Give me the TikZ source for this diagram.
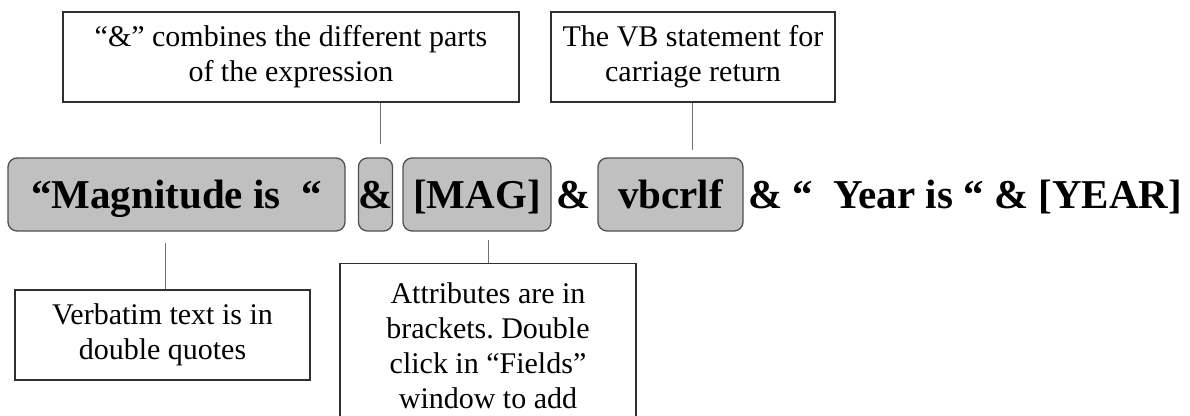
\documentclass[tikz,border=0pt]{standalone}
\usepackage{fontspec}
\setmainfont{Liberation Serif}
\definecolor{tokenfill}{HTML}{C0C0C0}
\definecolor{boxedge}{HTML}{505050}
\definecolor{noteedge}{HTML}{303030}
\definecolor{linkgray}{HTML}{707070}
\frenchspacing
\begin{document}
\begin{tikzpicture}[x=1pt,y=-1pt,
  token/.style={draw=boxedge, fill=tokenfill, rounded corners=9pt, line width=1.3pt,
    inner sep=0pt, minimum height=73pt, font=\bfseries\fontsize{41}{45}\selectfont,
    text height=36pt, text depth=9pt},
  plain/.style={inner sep=0pt, font=\bfseries\fontsize{41}{45}\selectfont,
    text height=36pt, text depth=9pt},
  note/.style={draw=noteedge, fill=white, line width=1.2pt, inner sep=0pt,
    align=center, font=\fontsize{30}{35}\selectfont},
  link/.style={draw=linkgray, line width=1pt}]
\useasboundingbox (0,0) rectangle (1190,415);
\clip (0,0) rectangle (1190,415);

% callout boxes
\node[note, minimum width=456pt, minimum height=90pt] (ampnote) at (291,57)
  {“\&” combines the different parts\\of the expression};
\node[note, minimum width=284pt, minimum height=90pt] (vbnote) at (693,57)
  {The VB statement for\\carriage return};
\node[note, minimum width=295pt, minimum height=90pt] (quotenote) at (162.5,335)
  {Verbatim text is in\\double quotes};
\node[note, minimum width=296pt, minimum height=164pt, anchor=north] (attrnote) at (488,263)
  {Attributes are in\\brackets. Double\\click in “Fields”\\window to add};

% the expression
\node[token, minimum width=337pt] (lit) at (176.5,194.5) {“Magnitude is\ \ “};
\node[token, minimum width=33pt] (amp) at (375.5,194.5) {\&};
\node[token, minimum width=148pt] (mag) at (477,194.5) {[MAG]};
\node[plain] (amp2) at (573.5,194.5) {\&};
\node[token, minimum width=145pt] (vb) at (670.5,194.5) {vbcrlf};
\node[plain] (rest) at (965,194.5) {\& “\ \ Year is “ \& [YEAR]};

% leader lines
\coordinate (ampend) at (380,144);
\coordinate (vbend) at (692,150);
\coordinate (litend) at (165,243);
\coordinate (magend) at (488,240);
\draw[link] (ampnote.south -| ampend) -- (ampend);
\draw[link] (vbnote.south -| vbend) -- (vbend);
\draw[link] (litend) -- (quotenote.north -| litend);
\draw[link] (magend) -- (attrnote.north);
\end{tikzpicture}
\end{document}
